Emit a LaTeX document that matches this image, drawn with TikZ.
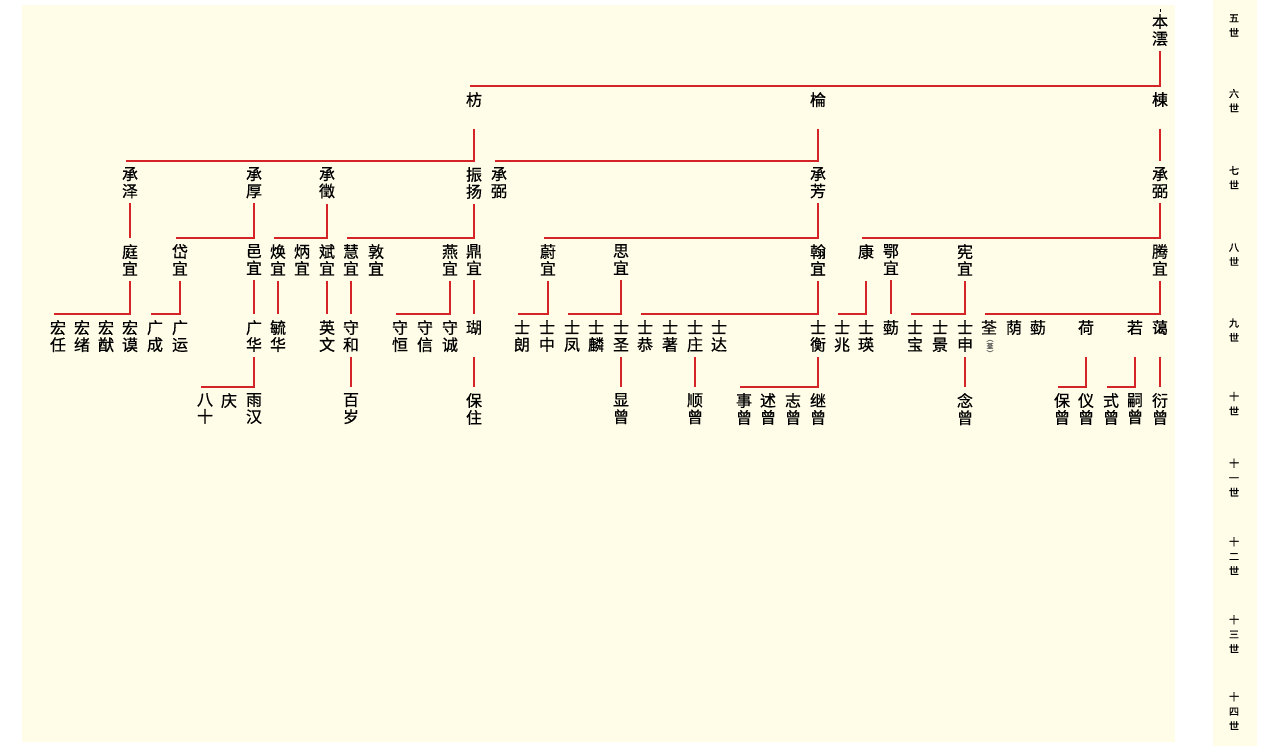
\documentclass[tikz,border=0pt]{standalone}
\usepackage{fontspec}
\usepackage{tikz}
\newfontfamily\cjk[FakeBold=0.6]{Noto Sans CJK SC}
\newfontfamily\cjkgen[FakeBold=1.2]{Noto Sans CJK SC}
\definecolor{paper}{RGB}{255,253,232}
\definecolor{linered}{RGB}{212,36,40}

\begin{document}
\begin{tikzpicture}[x=1pt,y=-1pt,
  nm/.style={anchor=north,inner sep=0pt,align=center,font=\cjk\fontsize{16}{17}\selectfont},
  note/.style={inner sep=0pt,align=center,text=black!65,font=\cjk\fontsize{7}{7.5}\selectfont},
  gen/.style={inner sep=0pt,align=center,font=\cjkgen\fontsize{10}{14.5}\selectfont},
  link/.style={draw=linered,line width=1.6pt}]
  \useasboundingbox[fill=white] (0,0) rectangle (1280,746);
  \fill[paper] (22,5) rectangle (1175,742);
  \fill[paper] (1213,0) rectangle (1257,746);

  % generations column
  \node[gen] (g5) at (1234,25.5) {五\\世};
  \node[gen] (g6) at (1234,100.5) {六\\世};
  \node[gen] (g7) at (1234,177.5) {七\\世};
  \node[gen] (g8) at (1234,254.5) {八\\世};
  \node[gen] (g9) at (1234,330) {九\\世};
  \node[gen] (g10) at (1234,403.5) {十\\世};
  \node[gen] (g11) at (1234,477.5) {十\\一\\世};
  \node[gen] (g12) at (1234,556) {十\\二\\世};
  \node[gen] (g13) at (1234,634) {十\\三\\世};
  \node[gen] (g14) at (1234,711) {十\\四\\世};

  % 5th and 6th generation
  \coordinate (top) at (1160,9);
  \node[nm] (benyun) at (1160,14) {本\\澐};
  \draw[line width=0.6pt] (top) -- ([yshift=2pt]benyun.north);
  \node[nm] (fang) at (474,92) {枋\\\phantom{宜}};
  \node[nm] (lun) at (818,92) {棆\\\phantom{宜}};
  \node[nm] (dong) at (1160,92) {棟\\\phantom{宜}};
  \draw[link] ([yshift=-5pt]benyun.south) |- ([shift={(-4pt,6pt)}]fang.north);

  % 7th generation
  \node[nm] (chengze) at (130,167) {承\\泽};
  \node[nm] (chenghou) at (254,167) {承\\厚};
  \node[nm] (chengzhi) at (327,167) {承\\徵};
  \node[nm] (zhenyang) at (474,167) {振\\扬};
  \node[nm] (chengbi) at (499,167) {承\\弼};
  \node[nm] (chengfang) at (818,167) {承\\芳};
  \node[nm] (chengbiB) at (1160,167) {承\\弼};
  \draw[link] ([yshift=-5pt]fang.south) |- ([shift={(-4pt,6pt)}]chengze.north);
  \draw[link] ([yshift=-5pt]lun.south) |- ([shift={(-4pt,6pt)}]chengbi.north);
  \draw[link] ([yshift=-5pt]dong.south) -- ([yshift=6pt]chengbiB.north);

  % 8th generation
  \node[nm] (tingyi) at (130,244) {庭\\宜};
  \node[nm] (daiyi) at (180,244) {岱\\宜};
  \node[nm] (yiyi) at (254,244) {邑\\宜};
  \node[nm] (huanyi) at (278,244) {焕\\宜};
  \node[nm] (bingyi) at (302,244) {炳\\宜};
  \node[nm] (binyi) at (327,244) {斌\\宜};
  \node[nm] (huiyi) at (351,244) {慧\\宜};
  \node[nm] (dunyi) at (376,244) {敦\\宜};
  \node[nm] (yanyi) at (450,244) {燕\\宜};
  \node[nm] (dingyi) at (474,244) {鼎\\宜};
  \node[nm] (weiyi) at (548,244) {蔚\\宜};
  \node[nm] (siyi) at (621,244) {思\\宜};
  \node[nm] (hanyi) at (818,244) {翰\\宜};
  \node[nm] (kang) at (866,244) {康\\\phantom{宜}};
  \node[nm] (eyi) at (891,244) {鄂\\宜};
  \node[nm] (xianyi) at (965,244) {宪\\宜};
  \node[nm] (tengyi) at (1160,244) {腾\\宜};
  \draw[link] ([yshift=-5pt]chengze.south) -- ([yshift=6pt]tingyi.north);
  \draw[link] ([yshift=-5pt]chenghou.south) |- ([shift={(-4pt,6pt)}]daiyi.north);
  \draw[link] ([yshift=-5pt]chengzhi.south) |- ([shift={(-4pt,6pt)}]huanyi.north);
  \draw[link] ([yshift=-5pt]zhenyang.south) |- ([shift={(-4pt,6pt)}]huiyi.north);
  \draw[link] ([yshift=-5pt]chengfang.south) |- ([shift={(-4pt,6pt)}]weiyi.north);
  \draw[link] ([yshift=-5pt]chengbiB.south) |- ([shift={(-4pt,6pt)}]kang.north);

  % 9th generation
  \node[nm] (hongren) at (58,320) {宏\\任};
  \node[nm] (hongxu) at (82,320) {宏\\绪};
  \node[nm] (hongyou) at (106,320) {宏\\猷};
  \node[nm] (hongmo) at (130,320) {宏\\谟};
  \node[nm] (guangcheng) at (155,320) {广\\成};
  \node[nm] (guangyun) at (180,320) {广\\运};
  \node[nm] (guanghua) at (254,320) {广\\华};
  \node[nm] (yuhua) at (278,320) {毓\\华};
  \node[nm] (yingwen) at (327,320) {英\\文};
  \node[nm] (shouhe) at (351,320) {守\\和};
  \node[nm] (shouheng) at (400,320) {守\\恒};
  \node[nm] (shouxin) at (425,320) {守\\信};
  \node[nm] (shoucheng) at (450,320) {守\\诚};
  \node[nm] (hu) at (474,320) {瑚\\\phantom{宜}};
  \node[nm] (shilang) at (522,320) {士\\朗};
  \node[nm] (shizhong) at (547,320) {士\\中};
  \node[nm] (shifeng) at (572,320) {士\\凤};
  \node[nm] (shilin) at (596,320) {士\\麟};
  \node[nm] (shisheng) at (621,320) {士\\圣};
  \node[nm] (shigong) at (645,320) {士\\恭};
  \node[nm] (shizhu) at (670,320) {士\\著};
  \node[nm] (shizhuang) at (695,320) {士\\庄};
  \node[nm] (shida) at (719,320) {士\\达};
  \node[nm] (shiheng) at (818,320) {士\\衡};
  \node[nm] (shizhao) at (842,320) {士\\兆};
  \node[nm] (shiying) at (866,320) {士\\瑛};
  \node[nm] (jing) at (891,320) {葝};
  \node[nm] (shibao) at (915,320) {士\\宝};
  \node[nm] (shijing) at (940,320) {士\\景};
  \node[nm] (shishen) at (965,320) {士\\申};
  \node[nm] (quan) at (989,320) {荃};
  \node[note] (quannote) at (990,348) {︵\\荃\\︶};
  \node[nm] (yin) at (1014,320) {荫};
  \node[nm] (jingB) at (1038,320) {葝};
  \node[nm] (he) at (1086,320) {荷\\\phantom{宜}};
  \node[nm] (ruo) at (1135,320) {若\\\phantom{宜}};
  \node[nm] (ai) at (1160,320) {蔼\\\phantom{宜}};
  \draw[link] ([yshift=-5pt]tingyi.south) |- ([shift={(-4pt,6pt)}]hongren.north);
  \draw[link] ([yshift=-5pt]daiyi.south) |- ([shift={(-4pt,6pt)}]guangcheng.north);
  \draw[link] ([yshift=-5pt]yiyi.south) -- ([yshift=6pt]guanghua.north);
  \draw[link] ([yshift=-5pt]huanyi.south) -- ([yshift=6pt]yuhua.north);
  \draw[link] ([yshift=-5pt]binyi.south) -- ([yshift=6pt]yingwen.north);
  \draw[link] ([yshift=-5pt]huiyi.south) -- ([yshift=6pt]shouhe.north);
  \draw[link] ([yshift=-5pt]yanyi.south) |- ([shift={(-4pt,6pt)}]shouheng.north);
  \draw[link] ([yshift=-5pt]dingyi.south) -- ([yshift=6pt]hu.north);
  \draw[link] ([yshift=-5pt]weiyi.south) |- ([shift={(-4pt,6pt)}]shilang.north);
  \draw[link] ([yshift=-5pt]siyi.south) |- ([shift={(-4pt,6pt)}]shifeng.north);
  \draw[link] ([yshift=-5pt]hanyi.south) |- ([shift={(-4pt,6pt)}]shigong.north);
  \draw[link] ([yshift=-5pt]kang.south) |- ([shift={(-4pt,6pt)}]shizhao.north);
  \draw[link] ([yshift=-5pt]eyi.south) -- ([yshift=6pt]jing.north);
  \draw[link] ([yshift=-5pt]xianyi.south) |- ([shift={(-4pt,6pt)}]shibao.north);
  \draw[link] ([yshift=-5pt]tengyi.south) |- ([shift={(-4pt,6pt)}]quan.north);

  % 10th generation
  \node[nm] (bashi) at (205,393) {八\\十};
  \node[nm] (qing) at (229,393) {庆};
  \node[nm] (yuhan) at (254,393) {雨\\汉};
  \node[nm] (baisui) at (351,393) {百\\岁};
  \node[nm] (baozhu) at (474,393) {保\\住};
  \node[nm] (xianzeng) at (621,393) {显\\曾};
  \node[nm] (shunzeng) at (695,393) {顺\\曾};
  \node[nm] (shizeng) at (744,393) {事\\曾};
  \node[nm] (shuzeng) at (768,393) {述\\曾};
  \node[nm] (zhizeng) at (793,393) {志\\曾};
  \node[nm] (jizeng) at (818,393) {继\\曾};
  \node[nm] (nianzeng) at (965,393) {念\\曾};
  \node[nm] (baozeng) at (1062,393) {保\\曾};
  \node[nm] (yizeng) at (1086,393) {仪\\曾};
  \node[nm] (shizengB) at (1111,393) {式\\曾};
  \node[nm] (sizeng) at (1135,393) {嗣\\曾};
  \node[nm] (yanzeng) at (1160,393) {衍\\曾};
  \draw[link] ([yshift=-5pt]guanghua.south) |- ([shift={(-4pt,6pt)}]bashi.north);
  \draw[link] ([yshift=-5pt]shouhe.south) -- ([yshift=6pt]baisui.north);
  \draw[link] ([yshift=-5pt]hu.south) -- ([yshift=6pt]baozhu.north);
  \draw[link] ([yshift=-5pt]shisheng.south) -- ([yshift=6pt]xianzeng.north);
  \draw[link] ([yshift=-5pt]shizhuang.south) -- ([yshift=6pt]shunzeng.north);
  \draw[link] ([yshift=-5pt]shiheng.south) |- ([shift={(-4pt,6pt)}]shizeng.north);
  \draw[link] ([yshift=-5pt]shishen.south) -- ([yshift=6pt]nianzeng.north);
  \draw[link] ([yshift=-5pt]he.south) |- ([shift={(-4pt,6pt)}]baozeng.north);
  \draw[link] ([yshift=-5pt]ruo.south) |- ([shift={(-4pt,6pt)}]shizengB.north);
  \draw[link] ([yshift=-5pt]ai.south) -- ([yshift=6pt]yanzeng.north);
\end{tikzpicture}
\end{document}
